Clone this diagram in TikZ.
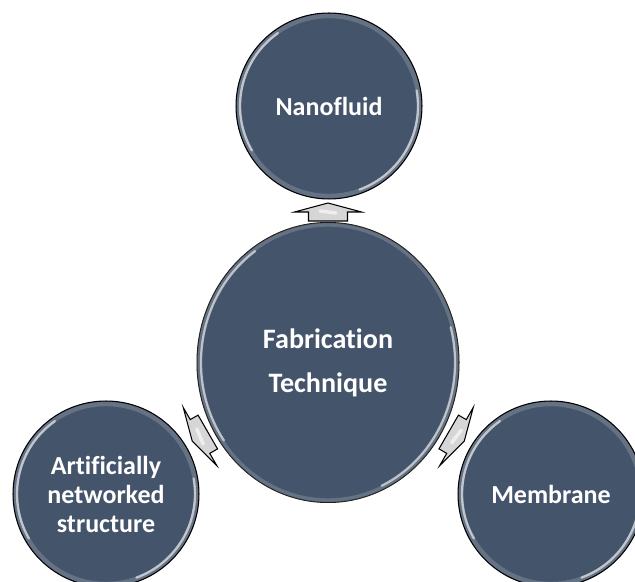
\documentclass[tikz,border=0pt]{standalone}
\usepackage{fontspec}
\setmainfont{Carlito}[Ligatures=NoCommon]
\usetikzlibrary{
  positioning,
  shapes.geometric
}
\definecolor{slate}{HTML}{44546A}
\definecolor{arrowgray}{HTML}{D6D6D6}
\tikzset{
  ball/.style = {
    circle, draw=black, line width=0.6pt, fill=slate, text=white,
    font=\bfseries\fontsize{14.8}{16.5}\selectfont, align=center,
    minimum size=3.72cm, inner sep=0pt
  },
  hub/.style = {
    ball, ellipse, minimum width=5.24cm, minimum height=5.6cm,
    font=\bfseries\fontsize{16}{25}\selectfont
  },
  rim/.style = {
    white, opacity=0.6, line width=1.3pt, line cap=round
  },
  glow/.style = {
    white, opacity=0.18, line width=2.5pt
  },
  pics/blockarrow/.style = {
    code = {
      \draw [fill=arrowgray, draw=black, line width=0.6pt]
        (-9,-19.5) -- (0,-19.5) -- (0,-33.5) -- (9,0)
        -- (0,33.5) -- (0,19.5) -- (-9,19.5) -- cycle;
      \draw [white, line width=2pt, line cap=round, opacity=0.6]
        (-1,-8) -- (1,8);
    }
  }
}

\begin{document}
\begin{tikzpicture}[x=0.02cm, y=0.02cm]
  \useasboundingbox (0,0) rectangle (635,581);
  \path
    (328,218.5) node [hub] (fab) {Fabrication\\Technique}
    (329,475) node [ball] (nano) {Nanofluid}
    (106,87) node [ball] (art) {Artificially\\networked\\structure}
    (551,87) node [ball] (mem) {Membrane}
    (328,369) pic [rotate=90] (up) {blockarrow}
    (200,144.5) pic [rotate=210] (dl) {blockarrow}
    (456.5,144.5) pic [rotate=-30] (dr) {blockarrow};
  % bevel highlights
  \foreach \n in {nano, art, mem} {
    \draw [glow] (\n.center) circle (90);
    \draw [rim] (\n.center) ++(125:89) arc (125:210:89)
                (\n.center) ++(-70:89) arc (-70:10:89);
  }
  \draw [glow] (fab.center) ellipse (129 and 138);
  \draw [rim] (fab.center) ++(125:127 and 136)
      arc [start angle=125, end angle=215, x radius=127, y radius=136]
    (fab.center) ++(-65:127 and 136)
      arc [start angle=-65, end angle=15, x radius=127, y radius=136];
\end{tikzpicture}
\end{document}
